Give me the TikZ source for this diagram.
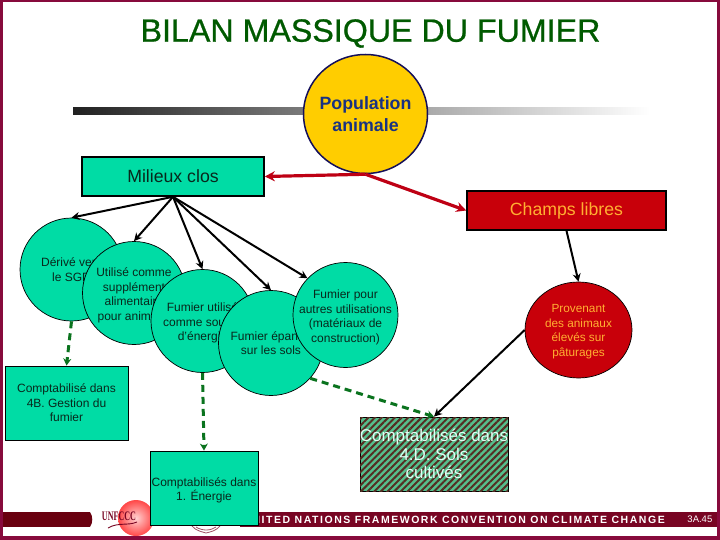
\documentclass[tikz,border=0pt]{standalone}
\usepackage{fontspec}
\setmainfont{Liberation Sans}
\newfontfamily\serifcond[FakeStretch=0.62]{Liberation Serif}
\newfontfamily\bandfont[LetterSpace=14.6]{Liberation Sans Bold}
\newfontfamily\titlefont[FakeBold=0.7]{Liberation Sans}
\usetikzlibrary{shapes.geometric,arrows.meta,patterns.meta}
\newcommand{\tup}{\rule{0pt}{13pt}}
\newcommand{\tupb}{\rule{0pt}{11pt}}
\definecolor{frameC}{RGB}{135,10,60}
\definecolor{bandC}{RGB}{120,5,35}
\definecolor{bandL}{RGB}{105,0,15}
\definecolor{greenC}{RGB}{0,220,165}
\definecolor{inkC}{RGB}{8,40,28}
\definecolor{titleC}{RGB}{0,90,0}
\definecolor{redC}{RGB}{200,0,10}
\definecolor{redL}{RGB}{190,0,20}
\definecolor{orangeC}{RGB}{255,175,50}
\definecolor{dashC}{RGB}{10,115,30}
\definecolor{hatchG}{RGB}{85,190,140}
\definecolor{hatchB}{RGB}{85,45,35}
\tikzset{
  x=1pt,y=-1pt,
  txt/.style={font=\fontsize{12}{14.5}\selectfont,align=center,text=inkC},
  gcircle/.style={ellipse,draw=black,line width=.7pt,fill=greenC,inner sep=-15pt,minimum width=#1,minimum height=#1,txt},
  gbox/.style={rectangle,draw=black,line width=.9pt,fill=greenC,inner sep=0pt,txt},
  blackarrow/.style={draw=black,line width=2pt,-{Stealth[length=8pt,width=8pt]}},
  redarrow/.style={draw=redL,line width=3.2pt,-{Stealth[length=10pt,width=10pt]}},
  dasharrow/.style={draw=dashC,line width=3pt,dash pattern=on 7pt off 5pt,-{Stealth[length=7pt,width=8pt]}},
}
\begin{document}
\begin{tikzpicture}
\useasboundingbox (0,0) rectangle (720,540);
\fill[white] (0,0) rectangle (720,540);
% footer band
\fill[bandL] (0,512) rectangle (90,527);
\fill[bandL] (90,512) .. controls (93,516) and (93,523) .. (90,527) -- cycle;
\fill[bandC] (240,512) rectangle (720,527);
\node[anchor=east,inner sep=0pt,text=white,font=\bandfont\fontsize{10.5}{12}\selectfont] (bandtext) at (665,519.5) {UNITED NATIONS FRAMEWORK CONVENTION ON CLIMATE CHANGE};
\node[anchor=east,inner sep=0pt,text=white,font=\fontsize{9.5}{11}\selectfont] (pagenum) at (712.5,519.5) {3A.45};
% logo
\shade[inner color=red!18!white,outer color=red!72!white] (136,518) circle (18);
\node[inner sep=0pt,text=bandC,font=\serifcond\bfseries\fontsize{13}{13}\selectfont] (unfccc) at (119,516.5) {UNFCCC};
\draw[bandC,line width=.9pt] (108,528) .. controls (118,522) and (128,526) .. (137,522);
\draw[bandC!70!white,line width=.8pt] (192,526) .. controls (196,531) and (203,532) .. (206,533) .. controls (210,532) and (216,531) .. (220,526);
\draw[bandC!70!white,line width=.8pt] (196,527) .. controls (199,529) and (203,530) .. (206,530) .. controls (210,530) and (213,529) .. (216,527);
% gradient rule
\shade[left color=black!87,middle color=black!28,right color=white] (73,108) rectangle (650,115);
% frame
\fill[frameC] (0,0) rectangle (720,2.5);
\fill[frameC] (0,0) rectangle (2.5,540);
\fill[frameC] (717,0) rectangle (720,540);
\fill[frameC] (0,536) rectangle (720,540);
% title
\node[text=titleC,inner sep=0pt,font=\titlefont\fontsize{32.2}{34}\selectfont] (title) at (370.5,33.5) {BILAN MASSIQUE DU FUMIER};
% top nodes
\node[ellipse,draw={rgb,255:red,20;green,15;blue,90},line width=1.5pt,fill={rgb,255:red,255;green,205;blue,0},inner sep=-10pt,minimum width=124,minimum height=119,align=center,text={rgb,255:red,25;green,50;blue,130},font=\bfseries\fontsize{17.8}{22}\selectfont] (pop) at (365.5,114) {Population\\animale};
\node[gbox,line width=1.6pt,minimum width=182,minimum height=39,font=\fontsize{17.7}{20}\selectfont] (mil) at (173,176.5) {Milieux clos};
\node[rectangle,draw=black,line width=1.6pt,fill=redC,minimum width=199,minimum height=39,inner sep=0pt,text=orangeC,font=\fontsize{17.7}{20}\selectfont] (champs) at (566.5,210.5) {Champs libres};
% circles
\node[gcircle=103] (derive) at (71.5,269.5) {Dérivé vers\\le SGD};
\node[gcircle=103] (utilise) at (134,293) {\tup Utilisé comme\\supplément\\alimentaire\\pour animaux};
\node[gcircle=103] (energie) at (202.5,321) {\tup Fumier utilisé\\comme source\\d'énergie};
\node[gcircle=105] (epandu) at (271,343) {Fumier épandu\\sur les sols};
\node[gcircle=105] (autres) at (345.5,315) {\tup Fumier pour\\autres utilisations\\(matériaux de\\construction)};
\node[ellipse,draw=black,line width=.7pt,fill=redC,inner sep=-12pt,minimum width=107,minimum height=96,align=center,text=orangeC,font=\fontsize{11.8}{14.5}\selectfont] (prov) at (578.5,330) {\tupb Provenant\\des animaux\\élevés sur\\pâturages};
% boxes
\node[gbox,minimum width=123,minimum height=74] (gestion) at (66.5,403) {Comptabilisé dans\\4B. Gestion du\\fumier};
\node[gbox,minimum width=108,minimum height=74] (enerbox) at (204,488) {\tup Comptabilisés dans\\1. Énergie};
\node[rectangle,draw=black,line width=.8pt,minimum width=148,minimum height=74,inner sep=0pt,fill=hatchG,
  postaction={pattern={Lines[angle=45,distance=4.7pt,line width=2pt]},pattern color=hatchB}] (sols) at (434,454) {};
\node[inner sep=0pt,align=center,text={rgb,255:red,225;green,255;blue,245},font=\fontsize{17}{18.7}\selectfont] (solstext) at (434,454) {Comptabilisés dans\\4.D. Sols\\cultivés};
% connectors
\draw[redarrow] (pop.south) -- (mil.east);
\draw[redarrow] (pop.south) -- (champs.west);
\draw[blackarrow] (mil.south) -- (derive.north);
\draw[blackarrow] (mil.south) -- (utilise.north);
\draw[blackarrow] (mil.south) -- (energie.north);
\draw[blackarrow] (mil.south) -- (epandu.north);
\draw[blackarrow] (mil.south) -- (autres.136);
\draw[blackarrow] (champs.south) -- (prov.north);
\draw[blackarrow] (prov.west) -- (sols.north);
\draw[dasharrow] (derive.south) -- (gestion.north);
\draw[dasharrow] (energie.south) -- (enerbox.north);
\draw[dasharrow] (epandu.-42) -- (sols.north);
\end{tikzpicture}
\end{document}
